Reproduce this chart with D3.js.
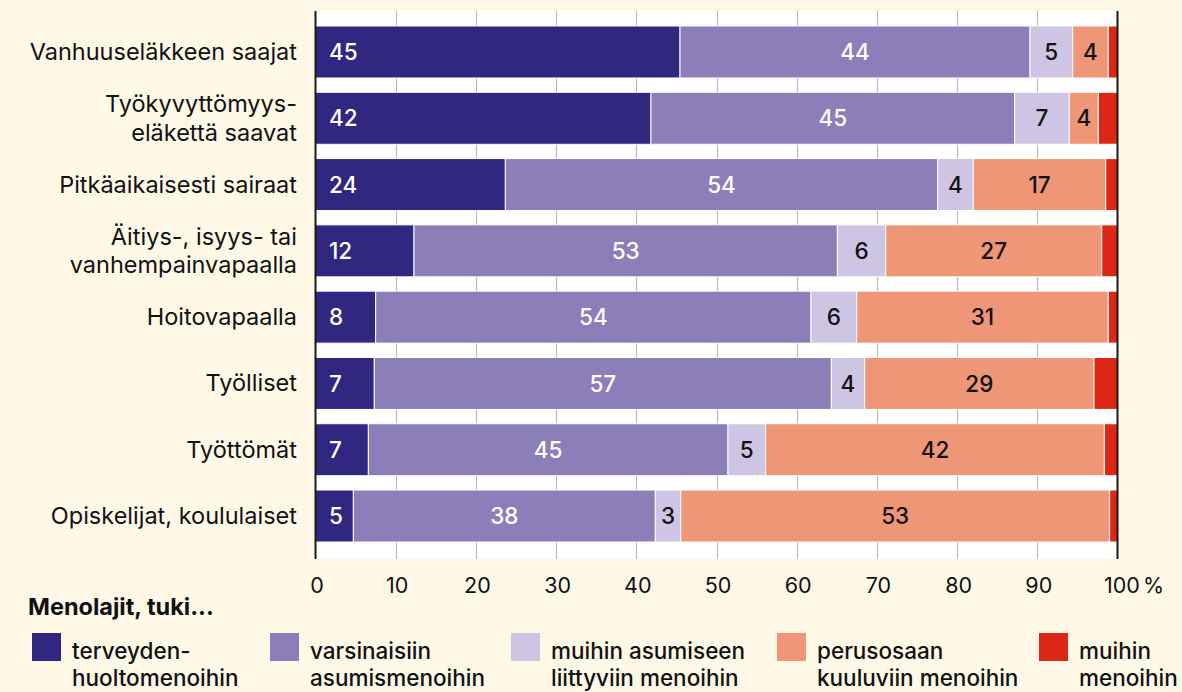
<!DOCTYPE html>
<html>
<head>
<meta charset="utf-8">
<script src="https://cdn.jsdelivr.net/npm/d3@7"></script>
<style>
  html, body { margin: 0; padding: 0; background: #fef8e7; }
  svg { display: block; }
  text { font-family: Inter, Roboto, "Noto Sans", sans-serif; }
</style>
</head>
<body>
<svg id="chart" width="1182" height="692"></svg>
<script>
// ---- Data ----
const categories = [
  "Vanhuuseläkkeen saajat",
  "Työkyvyttömyys-\neläkettä saavat",
  "Pitkäaikaisesti sairaat",
  "Äitiys-, isyys- tai\nvanhempainvapaalla",
  "Hoitovapaalla",
  "Työlliset",
  "Työttömät",
  "Opiskelijat, koululaiset"
];
const seriesKeys = ["terveys", "varsinainen", "muuAsuminen", "perusosa", "muut"];
const seriesLabels = [
  "terveyden-\nhuoltomenoihin",
  "varsinaisiin\nasumismenoihin",
  "muihin asumiseen\nliittyviin menoihin",
  "perusosaan\nkuuluviin menoihin",
  "muihin\nmenoihin"
];
const terveys      = [45.45, 41.83, 23.67, 12.28, 7.50, 7.33, 6.59, 4.72];
const varsinainen  = [43.64, 45.35, 53.91, 52.79, 54.28, 56.99, 44.84, 37.65];
const muuAsuminen  = [5.32, 6.81, 4.44, 6.03, 5.70, 4.15, 4.70, 3.17];
const perusosa     = [4.44, 3.62, 16.51, 26.93, 31.37, 28.60, 42.23, 53.48];
const muut         = [1.15, 2.39, 1.47, 1.97, 1.15, 2.93, 1.64, 0.98];
const tickValues   = [0, 10, 20, 30, 40, 50, 60, 70, 80, 90, 100];
const legendTitle  = "Menolajit, tuki...";

// ---- Styling ----
const colors = ["#312680", "#8b7eb9", "#cdc5e3", "#ef9676", "#dc2616"];
const labelColors = ["#ffffff", "#ffffff", "#111111", "#111111", null];

const rows = categories.map((c, i) => ({
  category: c,
  terveys: terveys[i],
  varsinainen: varsinainen[i],
  muuAsuminen: muuAsuminen[i],
  perusosa: perusosa[i],
  muut: muut[i]
}));

const svg = d3.select("#chart");
const x = d3.scaleLinear().domain([0, 100]).range([315.5, 1117.5]);
const y = d3.scaleBand().domain(categories).range([26, 542]).paddingInner(0.216).paddingOuter(0);

const plotTop = 11, plotBottom = 559;

// white plot area
svg.append("rect")
  .attr("x", x(0)).attr("y", plotTop)
  .attr("width", x(100) - x(0)).attr("height", plotBottom - plotTop)
  .attr("fill", "#ffffff");

// gridlines
svg.append("g").selectAll("line")
  .data(tickValues.filter(t => t > 0 && t < 100))
  .join("line")
  .attr("x1", d => Math.round(x(d)) + 0.5).attr("x2", d => Math.round(x(d)) + 0.5)
  .attr("y1", plotTop).attr("y2", plotBottom)
  .attr("stroke", "#b8b8b8").attr("stroke-width", 1.2);

// stacked bars
const stack = d3.stack().keys(seriesKeys);
const stacked = stack(rows);

const layers = svg.append("g").selectAll("g")
  .data(stacked)
  .join("g")
  .attr("fill", (d, i) => colors[i]);

layers.selectAll("rect")
  .data(d => d)
  .join("rect")
  .attr("x", d => x(d[0]))
  .attr("y", d => y(d.data.category))
  .attr("width", d => x(d[1]) - x(d[0]))
  .attr("height", y.bandwidth())
  .attr("stroke", "#ffffff")
  .attr("stroke-width", 1);

// value labels
stacked.forEach((layer, si) => {
  if (!labelColors[si]) return;
  svg.append("g").selectAll("text")
    .data(layer)
    .join("text")
    .attr("x", d => si === 0 ? x(d[0]) + 13.5 : (x(d[0]) + x(d[1])) / 2)
    .attr("y", d => y(d.data.category) + y.bandwidth() / 2)
    .attr("dy", "0.36em")
    .attr("text-anchor", si === 0 ? "start" : "middle")
    .attr("fill", labelColors[si])
    .attr("font-size", 22.5)
    .attr("font-weight", 500)
    .text(d => Math.round(d[1] - d[0]));
});

// axis lines (left/right)
[0, 100].forEach(v => {
  svg.append("line")
    .attr("x1", x(v)).attr("x2", x(v))
    .attr("y1", plotTop).attr("y2", plotBottom)
    .attr("stroke", "#1a1a1a").attr("stroke-width", 2);
});

// category labels
const catG = svg.append("g");
categories.forEach(c => {
  const lines = c.split("\n");
  const cy = y(c) + y.bandwidth() / 2;
  const t = catG.append("text")
    .attr("x", 297)
    .attr("text-anchor", "end")
    .attr("font-size", 23.5)
    .attr("fill", "#111111");
  const base = cy + 8 - (lines.length - 1) * 14.3;
  lines.forEach((ln, k) => {
    t.append("tspan").attr("x", 297).attr("y", base + k * 28.6).text(ln);
  });
});

// x axis tick labels
const axis = d3.axisBottom(x).tickValues(tickValues).tickSize(0).tickPadding(0)
  .tickFormat(d => d);
const axG = svg.append("g").attr("transform", `translate(0, ${577})`).call(axis);
axG.select(".domain").remove();
axG.selectAll("text")
  .attr("font-family", "Inter, Roboto, 'Noto Sans', sans-serif")
  .attr("font-size", 21.5)
  .attr("fill", "#111111")
  .attr("dy", "0.76em")
  .attr("dx", d => d === 100 ? 4 : 1);
svg.append("text")
  .attr("x", 1143).attr("y", 593)
  .attr("font-size", 21.5).attr("fill", "#111111")
  .text("%");

// legend
svg.append("text")
  .attr("x", 28).attr("y", 615)
  .attr("font-size", 23.5).attr("font-weight", 700).attr("fill", "#111111")
  .text(legendTitle);

const legendX = [32, 270, 511, 777, 1039];
seriesLabels.forEach((lab, i) => {
  const g = svg.append("g").attr("transform", `translate(${legendX[i]}, 633)`);
  g.append("rect").attr("width", 29).attr("height", 28).attr("fill", colors[i]);
  const t = g.append("text").attr("font-size", 22.5).attr("font-weight", 500).attr("fill", "#111111");
  lab.split("\n").forEach((ln, k) => {
    t.append("tspan").attr("x", 40).attr("y", 26 + k * 27).text(ln);
  });
});
</script>
</body>
</html>
